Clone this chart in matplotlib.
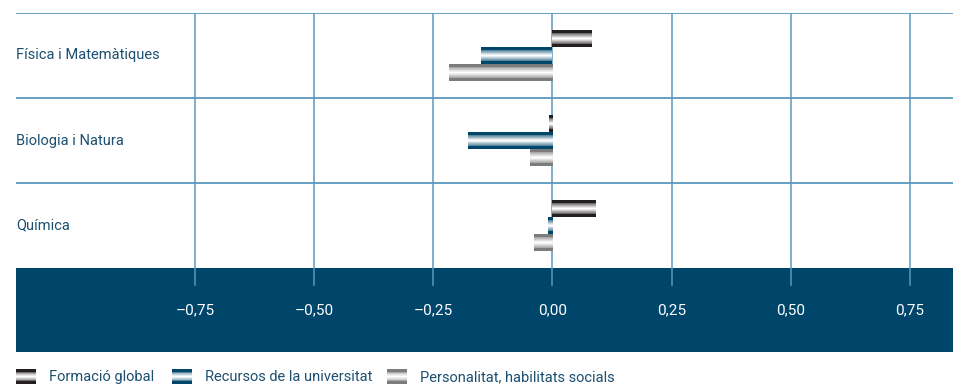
import numpy as np
import matplotlib
matplotlib.use("Agg")
import matplotlib.pyplot as plt
from matplotlib.colors import to_rgb

plt.rcParams['font.family'] = ['Roboto', 'DejaVu Sans']

# Values per field of study
categories = ['Física i Matemàtiques', 'Biologia i Natura', 'Química']
series = ['Formació global', 'Recursos de la universitat', 'Personalitat, habilitats socials']
formacio = [0.083, -0.008, 0.091]
recursos = [-0.149, -0.178, -0.010]
personalitat = [-0.218, -0.048, -0.038]
ticks = [-0.75, -0.50, -0.25, 0.0, 0.25, 0.50, 0.75]
tick_labels = ['–0,75', '–0,50', '–0,25', '0,00', '0,25', '0,50', '0,75']

edge_colors = ['#231f20', '#00476b', '#7c7c7c']
text_color = '#1d4f70'
band_color = '#00456a'
grid_color = '#5b98bf'

# stripe profile across a bar (0 = edge colour, 1 = white)
profile = np.array([0, 0, 0, 0.35, 0.5, 0.62, 0.78, 0.9, 1.0, 0.9, 0.78, 0.62, 0.5, 0.35, 0, 0, 0])


def stripes(color):
    c = np.array(to_rgb(color))
    rows = c[None, :] * (1 - profile[:, None]) + profile[:, None]
    return rows[:, None, :]


fig = plt.figure(figsize=(9.54, 3.89), dpi=100)
W, H = 954, 389
ax = fig.add_axes([16 / W, 1 - 352 / H, 1 - 16 / W, (352 - 13) / H])

band_bottom = 2.5 + (352 - 268) / 85
grid_bottom = 2.5 + (285 - 268) / 85
xlim = (-1.126, 0.843)

ax.axhspan(2.5, band_bottom, color=band_color, lw=0, zorder=0)
for t in ticks:
    ax.plot([t, t], [-0.5, grid_bottom], color=grid_color, lw=1.1, zorder=1)
for yb in [-0.5, 0.5, 1.5]:
    ax.axhline(yb, color=grid_color, lw=1.3, zorder=1)

y = np.arange(len(categories))
h = 0.2
for i, (vals, col) in enumerate(zip([formacio, recursos, personalitat], edge_colors)):
    bars = ax.barh(y + (i - 1) * h, vals, height=h, color=col, lw=0, zorder=2)
    for b in bars:
        x0, y0, bw, bh = b.get_x(), b.get_y(), b.get_width(), b.get_height()
        im = ax.imshow(stripes(col), extent=[x0, x0 + bw, y0 + bh, y0], aspect='auto',
                       interpolation='nearest', zorder=3)
        im.set_clip_path(b)

ax.set_xlim(*xlim)
ax.set_ylim(band_bottom, -0.5)

for yi, name in zip(y, categories):
    ax.text(0.0, yi, name, transform=ax.get_yaxis_transform(), ha='left', va='center',
            fontsize=10.5, color=text_color)

ax.set_xticks(ticks)
ax.set_xticklabels(tick_labels)
ax.tick_params(axis='x', length=0, pad=-35, labelcolor='white', labelsize=11)
ax.set_yticks([])
for s in ax.spines.values():
    s.set_visible(False)

# legend along the bottom edge
legend_x = [16, 172, 387]
for lx, name, col in zip(legend_x, series, edge_colors):
    lax = fig.add_axes([lx / W, 1 - 384 / H, 20 / W, 15 / H])
    lax.imshow(stripes(col), aspect='auto', interpolation='nearest')
    lax.axis('off')
    fig.text((lx + 33) / W, 1 - 377 / H, name, ha='left', va='center',
             fontsize=10.5, color=text_color)

fig.savefig('out.png', dpi=100)
